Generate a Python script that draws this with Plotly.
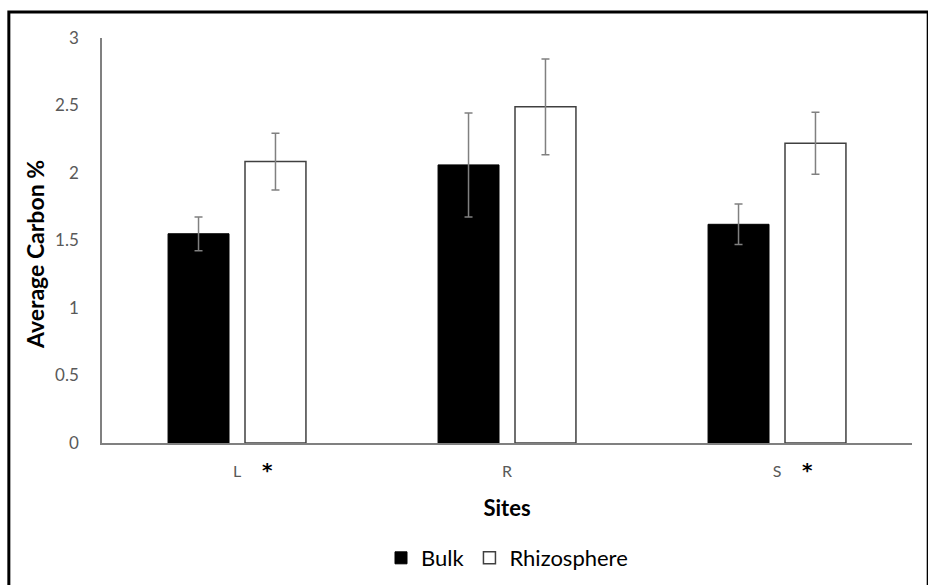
import plotly.graph_objects as go

sites = ["L", "R", "S"]
bulk = [1.55, 2.06, 1.62]
bulk_err = [0.125, 0.385, 0.15]
rhizo = [2.085, 2.49, 2.22]
rhizo_err = [0.21, 0.355, 0.23]
significant = ["L", "S"]

FONT = "Lato"
fig = go.Figure()
fig.add_trace(go.Bar(
    name="Bulk", x=sites, y=bulk,
    marker=dict(color="black", line=dict(color="black", width=1)),
    error_y=dict(type="data", array=bulk_err, color="#808080", thickness=1.5, width=4),
))
fig.add_trace(go.Bar(
    name="Rhizosphere", x=sites, y=rhizo,
    marker=dict(color="white", line=dict(color="#404040", width=1.5)),
    error_y=dict(type="data", array=rhizo_err, color="#808080", thickness=1.5, width=4),
))

for s in significant:
    fig.add_annotation(x=s, y=0, xref="x", yref="y", text="<b>*</b>", showarrow=False,
                       xshift=30, yshift=-27, font=dict(family="DejaVu Sans", size=20, color="black"))

fig.add_annotation(x=0, y=0.464, xref="paper", yref="paper", xshift=-67,
                   xanchor="center", yanchor="middle",
                   text="<b>Average Carbon %</b>", textangle=-90, showarrow=False,
                   font=dict(family=FONT, size=23, color="black"))

fig.update_layout(
    width=928, height=585,
    margin=dict(l=102, r=16, t=38, b=142, autoexpand=False),
    paper_bgcolor="white", plot_bgcolor="white",
    barmode="group", bargap=0.43, bargroupgap=0.208,
    font=dict(family=FONT, color="#595959", size=16),
    showlegend=True,
    legend=dict(orientation="h", x=0.5, xanchor="center", y=-0.284, yanchor="middle",
                font=dict(family=FONT, size=22, color="black"), traceorder="normal",
                itemwidth=30),
    shapes=[dict(type="rect", xref="paper", yref="paper",
                 x0=-0.115, x1=1.02, y0=-0.4, y1=1.064,
                 line=dict(color="black", width=3), fillcolor="rgba(0,0,0,0)")],
)
fig.update_xaxes(
    showline=True, linecolor="#808080", linewidth=1.5, ticks="", showgrid=False,
    ticklabelstandoff=13, automargin=False,
    tickfont=dict(family=FONT, size=16, color="#595959"),
    title=dict(text="<b>Sites</b>", font=dict(family=FONT, size=22, color="black"), standoff=22),
)
fig.update_yaxes(
    range=[0, 3], dtick=0.5, showline=True, linecolor="#808080", linewidth=1.5,
    ticks="", showgrid=False, zeroline=False, ticklabelstandoff=18, automargin=False,
    tickfont=dict(family=FONT, size=17, color="#595959"),
)

fig.write_html("out.html", config={"displayModeBar": False},
               post_script="document.body.style.margin='0';")
